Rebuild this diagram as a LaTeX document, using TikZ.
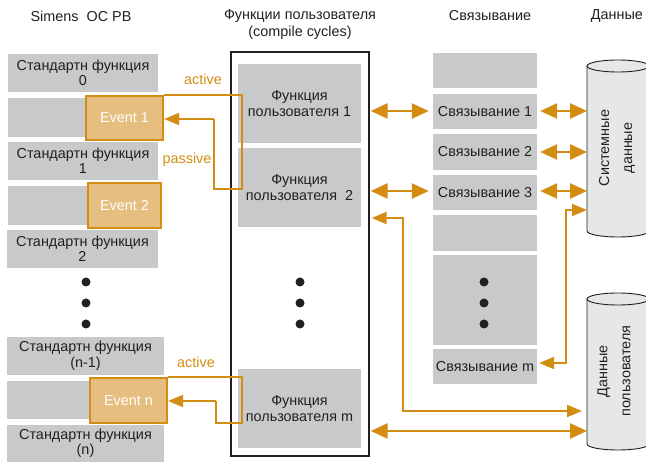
\documentclass[tikz,border=0pt]{standalone}
\usepackage{fontspec}
\setmainfont{Liberation Sans}
\usetikzlibrary{arrows.meta,calc}

\definecolor{boxgray}{RGB}{200,201,203}
\definecolor{linkorange}{RGB}{211,141,18}
\definecolor{eventfill}{RGB}{229,190,128}
\definecolor{textdark}{RGB}{35,31,32}
\definecolor{cylfill}{RGB}{230,231,232}

\tikzset{
  gbox/.style={fill=boxgray, draw=none, inner sep=0pt, align=center,
    text=textdark, font=\fontsize{14.4}{15.5}\selectfont},
  evbox/.style={fill=eventfill, draw=linkorange, line width=2.2pt, inner sep=0pt,
    text=white, font=\fontsize{14.4}{15.5}\selectfont},
  hdr/.style={text=textdark, align=center, font=\fontsize{14.4}{17}\selectfont},
  olabel/.style={text=linkorange, font=\fontsize{14.4}{15.5}\selectfont},
  bigtip/.tip={Triangle[length=17pt,width=15pt]},
  smalltip/.tip={Triangle[length=15pt,width=12pt]},
  dblarrow/.style={draw=linkorange, line width=2.6pt, bigtip-bigtip},
  bentarrow/.style={draw=linkorange, line width=2pt, smalltip-smalltip},
  evline/.style={draw=linkorange, line width=2pt},
  evarrow/.style={draw=linkorange, line width=2pt, -smalltip},
  dotmark/.style={circle, fill=textdark, inner sep=0pt, minimum size=9pt},
  cyl/.style={fill=cylfill, draw=textdark, line width=0.9pt},
  cyltext/.style={rotate=90, align=center, text=textdark, font=\fontsize{14.4}{23}\selectfont},
}

\begin{document}
\begin{tikzpicture}[x=1pt, y=-1pt]
\useasboundingbox (0,0) rectangle (646,462);

% column headings
\node[hdr] (hSim) at (81,16) {Simens\ \ OC PB};
\node[hdr] (hFun) at (300,25) {Функции пользователя\\(compile cycles)};
\node[hdr] (hLnk) at (490,16) {Связывание};
\node[hdr] (hDat) at (617,16) {Данные};

% left column: standard functions and event slots
\node[gbox, minimum width=150pt, minimum height=38pt] (sf0) at (83,73) {Стандартн функция\\0};
\node[gbox, minimum width=150pt, minimum height=39pt] (row1) at (83,117.5) {};
\node[gbox, minimum width=150pt, minimum height=38pt] (sf1) at (83,161) {Стандартн функция\\1};
\node[gbox, minimum width=150pt, minimum height=39pt] (row2) at (83,205.5) {};
\node[gbox, minimum width=151pt, minimum height=38pt] (sf2) at (82.5,249) {Стандартн функция\\2};
\node[gbox, minimum width=157pt, minimum height=38pt] (sfn1) at (85.5,356) {Стандартн функция\\(n-1)};
\node[gbox, minimum width=157pt, minimum height=38pt] (rown) at (85.5,400) {};
\node[gbox, minimum width=157pt, minimum height=37pt] (sfn) at (85.5,443.5) {Стандартн функция\\(n)};

\node[evbox, minimum width=77pt, minimum height=44pt] (ev1) at (124.5,118) {Event 1};
\node[evbox, minimum width=73pt, minimum height=45pt] (ev2) at (124.5,205.5) {Event 2};
\node[evbox, minimum width=77pt, minimum height=45pt] (evn) at (128.5,400.5) {Event n};

\node[dotmark] (ld1) at (86,282) {};
\node[dotmark] (ld2) at (86,303) {};
\node[dotmark] (ld3) at (86,324) {};

% user functions frame
\node[draw=textdark, line width=1.3pt, minimum width=138pt, minimum height=404pt, inner sep=0pt] (frame) at (300,254) {};
\node[gbox, minimum width=123pt, minimum height=79pt] (f1) at (299.5,103.5) {Функция\\пользователя 1};
\node[gbox, minimum width=123pt, minimum height=79pt] (f2) at (299.5,187.5) {Функция\\пользователя\ \ 2};
\node[gbox, minimum width=123pt, minimum height=79pt] (fm) at (299.5,408.5) {Функция\\пользователя m};
\node[dotmark] (md1) at (300,282) {};
\node[dotmark] (md2) at (300,303) {};
\node[dotmark] (md3) at (300,324) {};

% linking column
\node[gbox, minimum width=104pt, minimum height=35pt] (c0) at (485,70.5) {};
\node[gbox, minimum width=104pt, minimum height=35pt] (c1) at (485,111.5) {Связывание 1};
\node[gbox, minimum width=104pt, minimum height=36pt] (c2) at (485,152) {Связывание 2};
\node[gbox, minimum width=104pt, minimum height=35pt] (c3) at (485,192.5) {Связывание 3};
\node[gbox, minimum width=104pt, minimum height=36pt] (c4) at (485,233) {};
\node[gbox, minimum width=104pt, minimum height=90pt] (cdots) at (485,300) {};
\node[gbox, minimum width=104pt, minimum height=35pt] (cm) at (485,366.5) {Связывание m};
\node[dotmark] (rd1) at (484,282) {};
\node[dotmark] (rd2) at (484,303) {};
\node[dotmark] (rd3) at (484,324) {};

% data stores (cylinders, cut by the right edge)
\begin{scope}
\clip (0,0) rectangle (646,462);
\path[cyl] (587,66) -- (587,231) arc[start angle=180, end angle=0, x radius=31, y radius=6]
  -- (649,66) -- cycle;
\path[cyl] (618,66) ellipse[x radius=31, y radius=6];
\path[cyl] (587,299) -- (587,444) arc[start angle=180, end angle=0, x radius=31, y radius=6]
  -- (649,299) -- cycle;
\path[cyl] (618,299) ellipse[x radius=31, y radius=6];
\end{scope}
\node[cyltext] (sysdata) at (617,148) {Системные\\данные};
\node[cyltext] (usrdata) at (614,371) {Данные\\пользователя};
\coordinate (sysL) at (587,150);
\coordinate (usrL) at (587,371);

% event activation loops
\coordinate (l1a) at (242,97);
\coordinate (l1b) at (242,189);
\coordinate (l1c) at (214,189);
\coordinate (l1d) at (214,119);
\draw[evline] (ev1.north east) -- (l1a |- ev1.north east) -- (l1b) -- (l1c) -- (l1d);
\draw[evarrow] (l1d) -- (l1d -| ev1.east);
\node[olabel] (act1) at (203,79) {active};
\node[olabel] (pas1) at (187,160) {passive};

\coordinate (lna) at (242,378);
\coordinate (lnb) at (242,423);
\coordinate (lnc) at (216,423);
\coordinate (lnd) at (216,401);
\draw[evline] (evn.north east) -- (lna |- evn.north east) -- (lnb) -- (lnc) -- (lnd);
\draw[evarrow] (lnd) -- (lnd -| evn.east);
\node[olabel] (actn) at (196,362) {active};

% data exchange
\coordinate (a1) at (0,111);
\coordinate (a3) at (0,191);
\draw[dblarrow, shorten >=4pt, shorten <=1pt] (frame.east |- a1) -- (c1.west |- a1);
\draw[dblarrow, shorten >=4pt, shorten <=1pt] (frame.east |- a3) -- (c3.west |- a3);
\draw[dblarrow, shorten <=3pt] (c1.east |- a1) -- (sysL |- a1);
\draw[dblarrow, shorten <=3pt] (c2.east) -- (sysL |- c2.east);
\draw[dblarrow, shorten <=3pt] (c3.east |- a3) -- (sysL |- a3);

\coordinate (bA) at (566,363);
\coordinate (bB) at (566,210);
\draw[bentarrow, shorten <=2pt] (cm.east |- bA) -- (bA) -- (bB) -- (sysL |- bB);

\coordinate (bC) at (403,218);
\coordinate (bD) at (403,411);
\draw[bentarrow, shorten <=2pt, shorten >=5pt] (frame.east |- bC) -- (bC) -- (bD) -- (usrL |- bD);

\coordinate (a4) at (0,431);
\draw[dblarrow, shorten <=1pt] (frame.east |- a4) -- (usrL |- a4);
\end{tikzpicture}
\end{document}
